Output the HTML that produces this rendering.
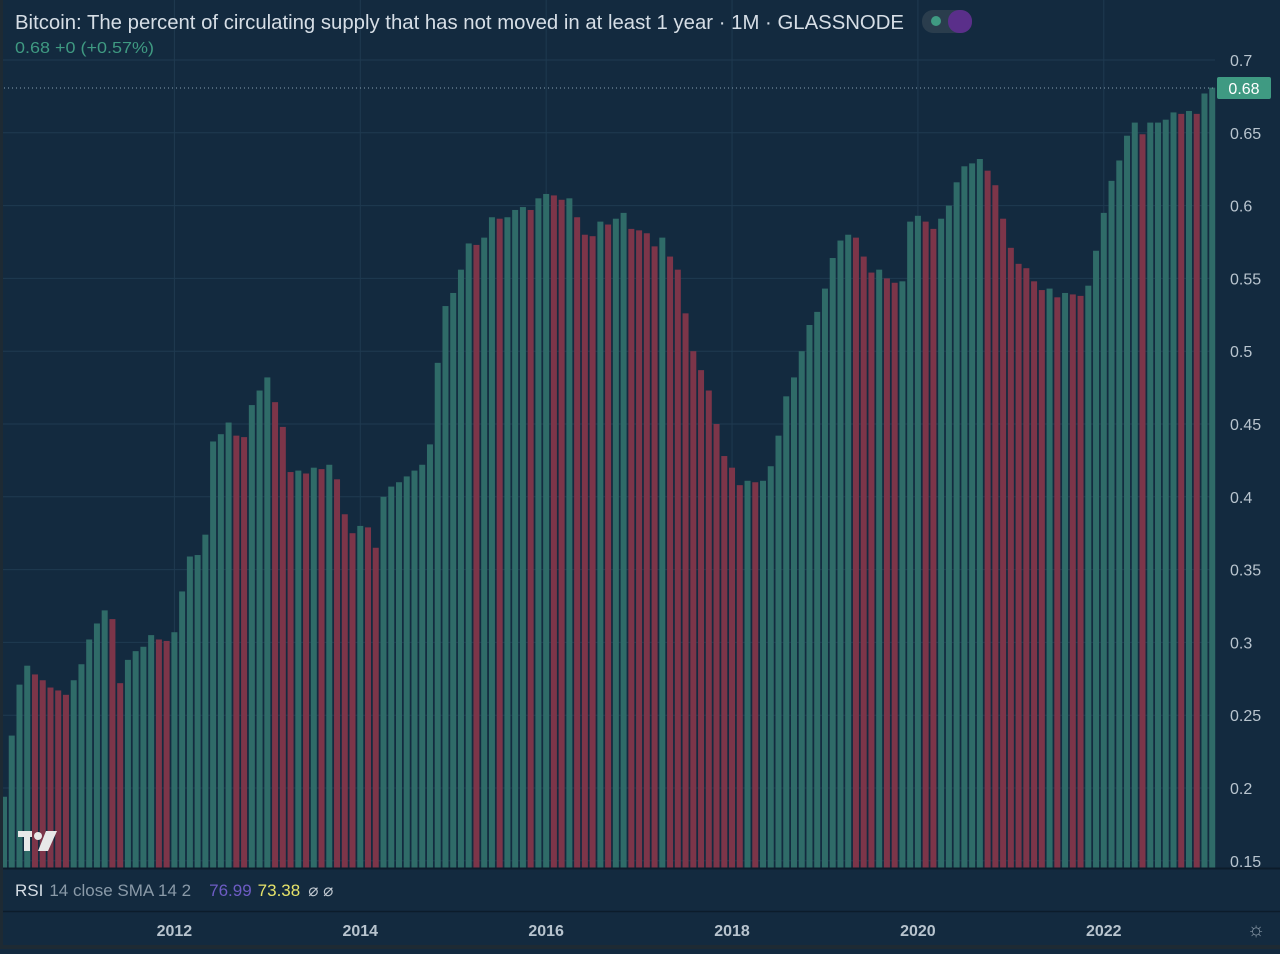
<!DOCTYPE html>
<html><head><meta charset="utf-8"><style>
body{margin:0;background:#132a3f;width:1280px;height:949px;overflow:hidden;font-family:"Liberation Sans",sans-serif}
</style></head><body>
<svg id="chart" width="1280" height="949" xmlns="http://www.w3.org/2000/svg">
<rect x="0" y="0" width="1280" height="949" fill="#132a3f"/>
<g id="grid"></g>
<g id="bars"></g>
<g id="yaxis"></g>
<line x1="0" y1="88" x2="1215" y2="88" stroke="#8aa0b0" stroke-dasharray="1,3" stroke-width="1"/>
<rect x="1217" y="77" width="54" height="22" rx="2" fill="#3f9a82"/>
<text x="1244" y="94" text-anchor="middle" font-size="16" fill="#ffffff">0.68</text>
<text x="15" y="29" font-size="20" fill="#d6dee6" textLength="889" lengthAdjust="spacingAndGlyphs">Bitcoin: The percent of circulating supply that has not moved in at least 1 year · 1M · GLASSNODE</text>
<rect x="922" y="10" width="50" height="23" rx="11" fill="#2a3d4d"/>
<circle cx="936" cy="21" r="5" fill="#3f9a82"/>
<rect x="948" y="10" width="24" height="23" rx="11" fill="#5a2f8a"/>
<text x="15" y="53" font-size="16" fill="#3f9a82" textLength="139" lengthAdjust="spacingAndGlyphs">0.68  +0 (+0.57%)</text>
<g><rect x="18" y="831" width="14" height="6" fill="#e8e8e8"/><rect x="24" y="831" width="6" height="20" fill="#e8e8e8"/><circle cx="38" cy="836" r="4" fill="#e8e8e8"/><polygon points="46,831 57,831 48,851 38,851" fill="#e8e8e8"/></g>
<line x1="0" y1="868.5" x2="1280" y2="868.5" stroke="#0c1c2b" stroke-width="2"/>
<text x="15" y="896" font-size="17"><tspan fill="#d6dee6">RSI</tspan><tspan fill="#8a9aa8" dx="6">14 close SMA 14 2</tspan><tspan fill="#6e5cc4" dx="18">76.99</tspan><tspan fill="#e6e36a" dx="6">73.38</tspan><tspan fill="#c0c8d0" dx="8">⌀  ⌀</tspan></text>
<line x1="0" y1="911.5" x2="1280" y2="911.5" stroke="#0c1c2b" stroke-width="1.5"/>
<g id="xaxis"></g>
<text x="1256" y="936" text-anchor="middle" font-size="20" fill="#8a9aa8">☼</text>
<rect x="0" y="0" width="3" height="949" fill="#1e2a33"/>
<rect x="0" y="945" width="1280" height="4" fill="#1e2a33"/>
</svg>
<script>
const values = [0.194,0.236,0.271,0.284,0.278,0.274,0.269,0.267,0.264,0.274,0.285,0.302,0.313,0.322,0.316,0.272,0.288,0.294,0.297,0.305,0.302,0.301,0.307,0.335,0.359,0.36,0.374,0.438,0.443,0.451,0.442,0.441,0.463,0.473,0.482,0.465,0.448,0.417,0.418,0.416,0.42,0.419,0.422,0.412,0.388,0.375,0.38,0.379,0.365,0.40,0.407,0.41,0.414,0.418,0.422,0.436,0.492,0.531,0.54,0.556,0.574,0.573,0.578,0.592,0.591,0.592,0.597,0.599,0.597,0.605,0.608,0.607,0.604,0.605,0.592,0.58,0.579,0.589,0.587,0.591,0.595,0.584,0.583,0.581,0.572,0.578,0.565,0.556,0.526,0.50,0.487,0.473,0.45,0.428,0.42,0.408,0.411,0.410,0.411,0.421,0.442,0.469,0.482,0.50,0.518,0.527,0.543,0.564,0.576,0.58,0.578,0.565,0.554,0.556,0.55,0.547,0.548,0.589,0.593,0.589,0.584,0.591,0.60,0.616,0.627,0.629,0.632,0.624,0.614,0.591,0.571,0.56,0.557,0.548,0.542,0.543,0.537,0.54,0.539,0.538,0.545,0.569,0.595,0.617,0.631,0.648,0.657,0.649,0.657,0.657,0.659,0.664,0.663,0.665,0.663,0.677,0.681];
const yTicks = [0.7,0.65,0.6,0.55,0.5,0.45,0.4,0.35,0.3,0.25,0.2,0.15];
const yTickLabels = ["0.7","0.65","0.6","0.55","0.5","0.45","0.4","0.35","0.3","0.25","0.2","0.15"];
const xYears = ["2012","2014","2016","2018","2020","2022"];
const xYearIndex = [22,46,70,94,118,142];

const NS="http://www.w3.org/2000/svg";
const bottom=868, x0=4, step=7.745, bw=6;
const y = v => 60 + (0.7 - v) * 1456;
const x = i => x0 + i*step;
function mk(tag, attrs, parent){const e=document.createElementNS(NS,tag);for(const k in attrs)e.setAttribute(k,attrs[k]);parent.appendChild(e);return e;}
const grid=document.getElementById('grid'), bars=document.getElementById('bars'), ya=document.getElementById('yaxis'), xa=document.getElementById('xaxis');
yTicks.forEach((t,i)=>{
  const l=mk('line',{x1:0,x2:1215,y1:y(t),y2:y(t),stroke:'#1f3a50','stroke-width':1},grid);
  
  
  const tx=mk('text',{x:1230,y:y(t)+6,'font-size':16,fill:'#b8c4ce'},ya);
  tx.textContent=yTickLabels[i];
  
  
});
xYears.forEach((yr,i)=>{
  const xx=x(xYearIndex[i]);
  const l=mk('line',{x1:xx,x2:xx,y1:0,y2:868,stroke:'#1f3a50','stroke-width':1},grid);
  
  
  const tx=mk('text',{x:xx,y:936,'font-size':16,'font-weight':'bold',fill:'#b8c4ce','text-anchor':'middle'},xa);
  tx.textContent=yr;
  
  
});
values.forEach((v,i)=>{
  const up = i===0 || v>=values[i-1];
  const r=mk('rect',{x:x(i)-bw/2,y:y(v),width:bw,height:bottom-y(v),fill:up?'#2f6b68':'#7c3549'},bars);
  
  
});
</script>
</body></html>
